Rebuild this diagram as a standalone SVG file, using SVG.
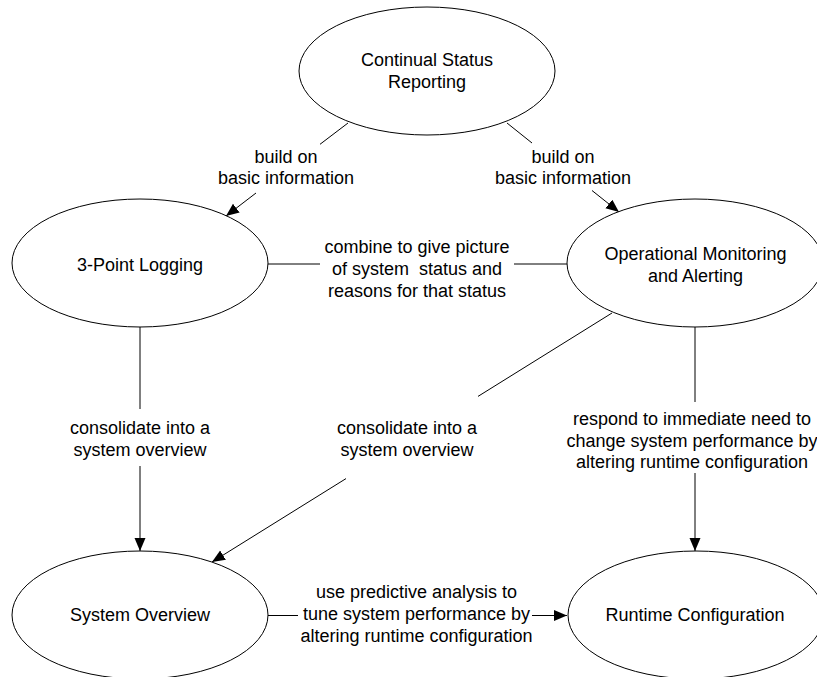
<svg xmlns="http://www.w3.org/2000/svg" width="817" height="677" viewBox="0 0 817 677">
<style>
.n{fill:#fff;stroke:#000;stroke-width:1}
.t{font-family:"Liberation Sans",Arial,sans-serif;font-size:18px;fill:#000;text-anchor:middle;white-space:pre}
.c{stroke:#000;stroke-width:1;fill:none}
</style>
<defs>
<marker id="ah" markerUnits="userSpaceOnUse" markerWidth="14" markerHeight="12" refX="13" refY="5.5" orient="auto">
<path d="M0,0 L13,5.5 L0,11 z" fill="#000"/>
</marker>
</defs>
<rect width="817" height="677" fill="#fff"/>
<g id="connectors">
<line class="c" x1="348" y1="123" x2="320" y2="144.3"/>
<line class="c" x1="256" y1="193" x2="226" y2="216" marker-end="url(#ah)"/>
<text class="t" x="286" y="162.5">build on</text>
<text class="t" x="286" y="184">basic information</text>
<line class="c" x1="507" y1="123" x2="532" y2="143"/>
<line class="c" x1="592" y1="190.5" x2="619" y2="212" marker-end="url(#ah)"/>
<text class="t" x="563" y="162.5">build on</text>
<text class="t" x="563" y="184">basic information</text>
<line class="c" x1="268" y1="264" x2="320" y2="264"/>
<line class="c" x1="514" y1="264" x2="567" y2="264"/>
<text class="t" x="417" y="252.5">combine to give picture</text>
<text class="t" x="417" y="274.5">of system  status and</text>
<text class="t" x="417" y="296.5">reasons for that status</text>
<line class="c" x1="140" y1="327" x2="140" y2="409"/>
<line class="c" x1="140" y1="466" x2="140" y2="551" marker-end="url(#ah)"/>
<text class="t" x="140" y="434">consolidate into a</text>
<text class="t" x="140" y="455.5">system overview</text>
<line class="c" x1="612" y1="313" x2="478" y2="396.4"/>
<line class="c" x1="346" y1="478.6" x2="212" y2="562" marker-end="url(#ah)"/>
<text class="t" x="407" y="434">consolidate into a</text>
<text class="t" x="407" y="455.5">system overview</text>
<line class="c" x1="695" y1="327" x2="695" y2="402"/>
<line class="c" x1="695" y1="473" x2="695" y2="551" marker-end="url(#ah)"/>
<text class="t" x="692" y="425">respond to immediate need to</text>
<text class="t" x="692" y="446.7">change system performance by</text>
<text class="t" x="692" y="468.3">altering runtime configuration</text>
<line class="c" x1="268" y1="615.5" x2="298" y2="615.5"/>
<line class="c" x1="532" y1="615.5" x2="567" y2="615.5" marker-end="url(#ah)"/>
<text class="t" x="416.5" y="598">use predictive analysis to</text>
<text class="t" x="416.5" y="620">tune system performance by</text>
<text class="t" x="416.5" y="641.7">altering runtime configuration</text>
</g>
<g id="continual-status-reporting">
<ellipse class="n" cx="427" cy="71" rx="128" ry="64"/>
<text class="t" x="427" y="66">Continual Status</text>
<text class="t" x="427" y="87.5">Reporting</text>
</g>
<g id="three-point-logging">
<ellipse class="n" cx="140" cy="263" rx="128" ry="64"/>
<text class="t" x="140" y="271">3-Point Logging</text>
</g>
<g id="operational-monitoring">
<ellipse class="n" cx="695" cy="263" rx="128" ry="64"/>
<text class="t" x="695.5" y="260">Operational Monitoring</text>
<text class="t" x="695.5" y="281.7">and Alerting</text>
</g>
<g id="system-overview">
<ellipse class="n" cx="140" cy="615" rx="128" ry="64"/>
<text class="t" x="140" y="621">System Overview</text>
</g>
<g id="runtime-configuration">
<ellipse class="n" cx="696" cy="615" rx="128" ry="64"/>
<text class="t" x="695" y="621">Runtime Configuration</text>
</g>
</svg>
